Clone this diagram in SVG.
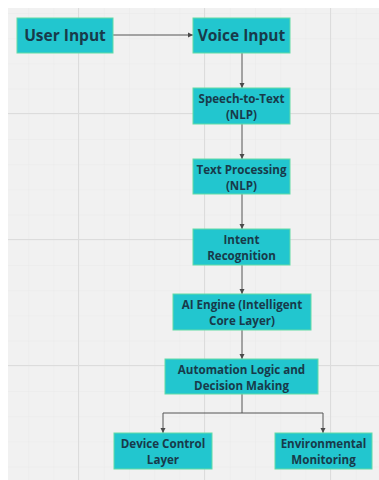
<svg xmlns="http://www.w3.org/2000/svg" width="379" height="480" viewBox="0 0 379 480">
<defs>
<pattern id="minor" x="3" y="13" width="25.2" height="25.2" patternUnits="userSpaceOnUse">
<path d="M0 0H25.2M0 0V25.2" fill="none" stroke="#e9e9e9" stroke-width="1"/>
</pattern>
<pattern id="major" x="78" y="113" width="126" height="126" patternUnits="userSpaceOnUse">
<path d="M0 0.5H126M0.5 0V126" fill="none" stroke="#dcdcdc" stroke-width="1"/>
</pattern>
<marker id="arr" markerWidth="6" markerHeight="6" refX="5" refY="3" orient="auto" markerUnits="userSpaceOnUse">
<path d="M0 0.5L5 3L0 5.5Z" fill="#4a4a4a"/>
</marker>
<style>
.box{fill:#22c6cf;stroke:#63dca6;stroke-width:1}
.t{font-family:"Open Sans","DejaVu Sans",sans-serif;font-weight:bold;fill:#183a4a;text-anchor:middle}
.big{font-size:15.5px}
.sm{font-size:11.6px}
.c{fill:none;stroke:#555;stroke-width:1;marker-end:url(#arr)}
</style>
</defs>
<rect width="379" height="480" fill="#ffffff"/>
<rect x="8" y="8" width="371" height="472" fill="#f1f1f1"/>
<rect x="8" y="8" width="371" height="472" fill="url(#minor)"/>
<rect x="8" y="8" width="371" height="472" fill="url(#major)"/>
<g id="connectors">
<path class="c" d="M113 35H193"/>
<path class="c" d="M242 53V88"/>
<path class="c" d="M242 124V159"/>
<path class="c" d="M242 194V229"/>
<path class="c" d="M242 265V294"/>
<path class="c" d="M242 330V359"/>
<path class="c" d="M242 394V413H163V433"/>
<path class="c" d="M242 413H323V433"/>
</g>
<g id="user-input"><rect class="box" x="17" y="18" width="96" height="35"/><text class="t big" x="65" y="41">User Input</text></g>
<g id="voice-input"><rect class="box" x="193" y="18" width="97" height="35"/><text class="t big" x="241.5" y="41">Voice Input</text></g>
<g id="speech-to-text"><rect class="box" x="193" y="88" width="97" height="36"/><text class="t sm" x="241.5" y="103">Speech-to-Text</text><text class="t sm" x="241.5" y="119">(NLP)</text></g>
<g id="text-processing"><rect class="box" x="193" y="159" width="97" height="35"/><text class="t sm" x="241.5" y="174">Text Processing</text><text class="t sm" x="241.5" y="190">(NLP)</text></g>
<g id="intent-recognition"><rect class="box" x="193" y="229" width="97" height="36"/><text class="t sm" x="241.5" y="244">Intent</text><text class="t sm" x="241.5" y="260">Recognition</text></g>
<g id="ai-engine"><rect class="box" x="173" y="294" width="138" height="36"/><text class="t sm" x="242" y="309">AI Engine (Intelligent</text><text class="t sm" x="242" y="325">Core Layer)</text></g>
<g id="automation-logic"><rect class="box" x="165" y="359" width="153" height="35"/><text class="t sm" x="241.5" y="374">Automation Logic and</text><text class="t sm" x="241.5" y="390">Decision Making</text></g>
<g id="device-control"><rect class="box" x="114" y="433" width="98" height="36"/><text class="t sm" x="163" y="448">Device Control</text><text class="t sm" x="163" y="464">Layer</text></g>
<g id="environmental-monitoring"><rect class="box" x="275" y="433" width="97" height="36"/><text class="t sm" x="323.5" y="448">Environmental</text><text class="t sm" x="323.5" y="464">Monitoring</text></g>
</svg>
